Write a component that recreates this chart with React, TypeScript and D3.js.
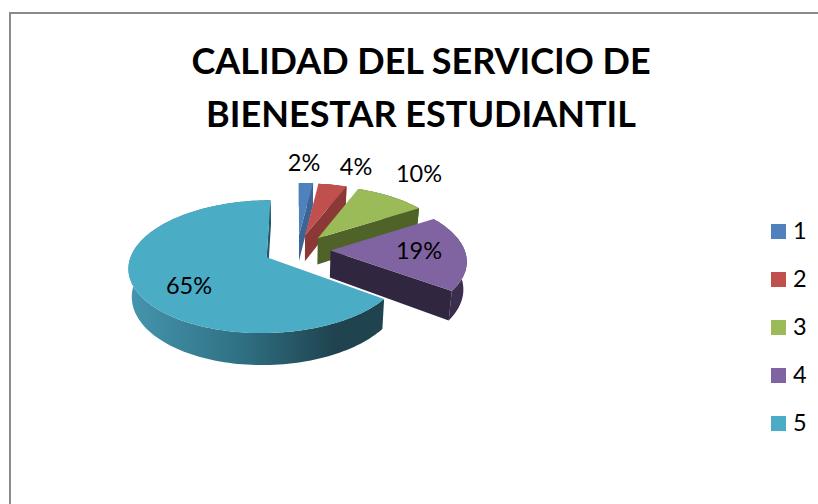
import React from "react";
import * as d3 from "d3";

const title = ["CALIDAD DEL SERVICIO DE", "BIENESTAR ESTUDIANTIL"];
const categories = ["1", "2", "3", "4", "5"];
const values = [2, 4, 10, 19, 65];
const topColors = ["#4F81BD", "#C0504D", "#9BBB59", "#8064A2", "#4BACC6"];
const cutColors = ["#3C6494", "#8C3836", "#4F6228", "#31263F", "#215968"];

const W = 818, H = 504;
const cx = 297, cy = 250, R = 134, Ry = 63, k = 0.14, explode = 0.25, depth = 27, bottomScale = 0.98;
const labelPos: [number, number][] = [[304, 171], [356, 175], [419, 182], [419, 259], [189, 294]];

function project(px: number, py: number, low: boolean): [number, number] {
  const f = 1 / (1 + k * py);
  const s = low ? bottomScale : 1;
  return [cx + R * px * f * s, cy - Ry * py * f + (low ? depth * f : 0)];
}

const line = d3.line();
const pct = d3.format(".0%");

export default function App() {
  const total = d3.sum(values);
  const arcs = d3.pie<number>().sort(null)(values);
  const legendY = d3.scalePoint<string>().domain(categories).range([231.5, 423.5]);

  const slices = arcs.map((a, i) => {
    const mid = (a.startAngle + a.endAngle) / 2;
    const ox = explode * Math.sin(mid), oy = explode * Math.cos(mid);
    const n = Math.max(4, Math.ceil((a.endAngle - a.startAngle) / 0.03));
    const angles = d3.range(n + 1).map((j) => a.startAngle + ((a.endAngle - a.startAngle) * j) / n);
    const rim = (low: boolean) => angles.map((t) => project(ox + Math.sin(t), oy + Math.cos(t), low));
    const apex = (low: boolean) => project(ox, oy, low);
    const top = line([apex(false), ...rim(false)]) + "Z";
    const outer = line([...rim(false), ...rim(true).reverse()]) + "Z";
    const endTop = rim(false)[n], endLow = rim(true)[n];
    const cut = line([apex(false), endTop, endLow, apex(true)]) + "Z";
    return { i, top, outer, cut };
  });

  return (
    <svg width={W} height={H} style={{ position: "absolute", left: 0, top: 0, background: "#fff" }} fontFamily="Lato, Carlito, sans-serif">
      <defs>
        <linearGradient id="rim5" gradientUnits="userSpaceOnUse" x1="130" x2="383" y1="0" y2="0">
          <stop offset="0" stopColor="#4595AE" />
          <stop offset="0.45" stopColor="#2F6F82" />
          <stop offset="0.8" stopColor="#1F4450" />
          <stop offset="1" stopColor="#1F4450" />
        </linearGradient>
        <linearGradient id="rim4" gradientUnits="userSpaceOnUse" x1="380" x2="470" y1="0" y2="0">
          <stop offset="0" stopColor="#31263F" />
          <stop offset="1" stopColor="#3D2F50" />
        </linearGradient>
      </defs>
      <path d={`M10,${H}V13H${W}`} fill="none" stroke="#8A8A8A" strokeWidth={2} />
      {title.map((t, i) => (
        <text key={t} x={421} y={74 + i * 53} textAnchor="middle" fontSize={36} fontWeight={700} fill="#000">{t}</text>
      ))}
      {slices.map((s) => (
        <g key={s.i}>
          <path d={s.outer} fill={s.i === 4 ? "url(#rim5)" : s.i === 3 ? "url(#rim4)" : cutColors[s.i]} />
          <path d={s.cut} fill={cutColors[s.i]} />
          <path d={s.top} fill={topColors[s.i]} />
        </g>
      ))}
      {arcs.map((a, i) => (
        <text key={i} x={labelPos[i][0]} y={labelPos[i][1]} textAnchor="middle" fontSize={23.5} fill="#000">{pct(a.value / total)}</text>
      ))}
      {categories.map((c, i) => (
        <g key={c}>
          <rect x={771} y={legendY(c)! - 7.5} width={15} height={15} fill={topColors[i]} />
          <text x={793} y={legendY(c)! + 7.5} fontSize={23.5} fill="#000">{c}</text>
        </g>
      ))}
    </svg>
  );
}
